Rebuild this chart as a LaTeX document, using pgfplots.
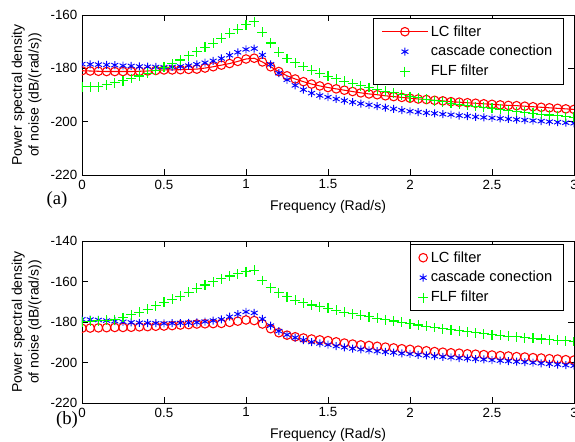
\documentclass[border=0pt]{standalone}
\usepackage{fontspec}
\setmainfont{Liberation Sans}
\newfontfamily\tnr{Liberation Serif}
\usepackage{pgfplots}
\usepackage{pgfplotstable}
\pgfplotsset{compat=1.18}

\definecolor{mred}{rgb}{1,0,0}
\definecolor{mblue}{rgb}{0,0,1}
\definecolor{mgreen}{rgb}{0,1,0}

% panel (a): x, LC filter, cascade conection, FLF filter
\pgfplotstableread{
x lc cas flf
0 -180.9 -178.4 -186.9
0.05 -181.0 -178.5 -186.9
0.1 -181.1 -178.6 -186.9
0.15 -181.2 -178.7 -186.2
0.2 -181.2 -178.8 -185.4
0.25 -181.2 -179.0 -184.6
0.3 -181.2 -179.1 -183.8
0.35 -181.1 -179.3 -182.9
0.4 -181.0 -179.4 -181.9
0.45 -180.8 -179.5 -180.8
0.5 -180.6 -179.6 -179.6
0.55 -180.6 -179.5 -178.3
0.6 -180.5 -179.3 -176.9
0.65 -180.4 -179.0 -175.3
0.7 -180.3 -178.5 -173.8
0.75 -179.9 -177.9 -172.1
0.8 -179.4 -177.2 -170.6
0.85 -178.8 -176.3 -168.7
0.9 -178.2 -175.1 -166.9
0.95 -177.4 -174.0 -165.3
1.0 -176.5 -172.9 -163.7
1.05 -176.2 -172.6 -162.5
1.1 -177.6 -175.0 -166.5
1.15 -179.4 -178.5 -170.5
1.2 -181.2 -181.8 -174.0
1.25 -182.8 -184.3 -176.3
1.3 -184.0 -186.4 -177.9
1.35 -185.0 -188.0 -179.3
1.4 -185.9 -189.3 -180.7
1.45 -186.6 -190.2 -181.9
1.5 -187.2 -190.8 -183.0
1.55 -187.7 -191.5 -183.9
1.6 -188.2 -192.1 -184.8
1.65 -188.7 -192.7 -185.7
1.7 -189.2 -193.2 -186.5
1.75 -189.6 -193.7 -187.2
1.8 -189.9 -194.2 -187.9
1.85 -190.3 -194.7 -188.6
1.9 -190.6 -195.2 -189.2
1.95 -190.9 -195.7 -189.9
2.0 -191.2 -196.1 -190.6
2.05 -191.5 -196.4 -191.1
2.1 -191.7 -196.7 -191.6
2.15 -192.0 -196.9 -192.1
2.2 -192.2 -197.2 -192.6
2.25 -192.5 -197.4 -193.1
2.3 -192.7 -197.7 -193.5
2.35 -192.9 -197.9 -193.9
2.4 -193.1 -198.2 -194.3
2.45 -193.3 -198.4 -194.6
2.5 -193.5 -198.6 -195.0
2.55 -193.7 -198.8 -195.4
2.6 -193.9 -199.0 -195.8
2.65 -194.0 -199.2 -196.2
2.7 -194.2 -199.4 -196.5
2.75 -194.4 -199.6 -196.9
2.8 -194.6 -199.8 -197.2
2.85 -194.8 -200.0 -197.5
2.9 -195.0 -200.2 -197.8
2.95 -195.2 -200.4 -198.1
3.0 -195.4 -200.6 -198.4
}\tabA

% panel (b)
\pgfplotstableread{
x lc cas flf
0 -183.1 -178.7 -179.8
0.05 -183.0 -178.8 -179.6
0.1 -182.9 -179.0 -179.4
0.15 -182.8 -179.3 -179.2
0.2 -182.7 -179.6 -178.8
0.25 -182.7 -179.9 -177.8
0.3 -182.6 -180.2 -176.5
0.35 -182.4 -180.4 -175.1
0.4 -182.3 -180.5 -173.7
0.45 -182.1 -180.6 -172.0
0.5 -182.0 -180.7 -170.3
0.55 -181.8 -180.6 -168.8
0.6 -181.5 -180.5 -167.2
0.65 -181.3 -180.4 -165.3
0.7 -181.0 -180.2 -163.4
0.75 -180.9 -179.8 -161.7
0.8 -180.8 -179.3 -160.1
0.85 -180.7 -178.7 -158.7
0.9 -180.2 -177.4 -157.3
0.95 -179.6 -176.1 -156.2
1.0 -179.0 -175.0 -155.1
1.05 -179.3 -175.5 -154.5
1.1 -181.0 -178.5 -159.5
1.15 -183.3 -181.8 -163.0
1.2 -185.3 -184.5 -165.6
1.25 -186.5 -186.3 -167.5
1.3 -187.3 -187.7 -169.2
1.35 -187.9 -188.9 -170.5
1.4 -188.4 -189.9 -171.6
1.45 -188.8 -190.6 -172.4
1.5 -189.2 -191.2 -173.2
1.55 -189.8 -191.9 -174.2
1.6 -190.4 -192.5 -175.1
1.65 -190.9 -193.1 -175.9
1.7 -191.3 -193.5 -176.7
1.75 -191.6 -194.0 -177.4
1.8 -192.0 -194.4 -178.1
1.85 -192.4 -194.8 -178.8
1.9 -192.8 -195.1 -179.5
1.95 -193.2 -195.5 -180.2
2.0 -193.5 -195.8 -180.9
2.05 -193.9 -196.2 -181.5
2.1 -194.2 -196.5 -182.1
2.15 -194.6 -196.9 -182.7
2.2 -194.9 -197.2 -183.3
2.25 -195.2 -197.5 -183.8
2.3 -195.4 -197.8 -184.3
2.35 -195.7 -198.0 -184.8
2.4 -195.9 -198.3 -185.3
2.45 -196.1 -198.5 -185.8
2.5 -196.3 -198.8 -186.3
2.55 -196.6 -199.1 -186.6
2.6 -196.8 -199.3 -187.0
2.65 -197.1 -199.6 -187.3
2.7 -197.3 -199.8 -187.7
2.75 -197.6 -200.1 -188.0
2.8 -197.8 -200.4 -188.4
2.85 -198.1 -200.7 -188.7
2.9 -198.3 -201.0 -189.0
2.95 -198.6 -201.3 -189.3
3.0 -198.8 -201.6 -189.6
}\tabB

\pgfplotsset{
  psd/.style={
    scale only axis,
    width=369pt,
    xmin=0, xmax=3,
    xtick={0,0.5,1,1.5,2,2.5,3},
    ymin=-220,
    axis line style={line width=0.6pt},
    every tick/.style={black, line width=0.5pt},
    tick align=inside,
    ticklabel style={font=\fontsize{10}{12}\selectfont},
    /pgf/number format/assume math mode=true,
    xlabel={Frequency (Rad/s)},
    ylabel={Power spectral density\\of noise (dB/(rad/s))},
    ylabel style={align=center, font=\fontsize{10.5}{12.5}\selectfont},
    xlabel style={font=\fontsize{10.5}{12.5}\selectfont, yshift=-1.5pt},
    clip marker paths=true,
    legend cell align=left,
    legend image code/.code={
      \draw[mark repeat=2, mark phase=2, ##1]
        plot coordinates {(0pt,0pt) (17pt,0pt) (34pt,0pt)};},
    legend style={at={(rel axis cs:1,1)}, anchor=north east,
      xshift=-8pt, yshift=-2.5pt, draw=black, line width=0.6pt,
      font=\fontsize{11}{13}\selectfont,
      inner xsep=6pt, inner ysep=3pt, row sep=1.5pt},
  },
  lcs/.style={color=mred, mark=o, mark size=3.2pt, line width=0.8pt},
  cass/.style={color=mblue, only marks, mark=asterisk, mark size=3pt, line width=0.7pt},
  flfs/.style={color=mgreen, only marks, mark=+, mark size=3.7pt, line width=0.85pt},
}

\begin{document}
\begin{tikzpicture}
\begin{axis}[psd, name=top, height=120pt, ymax=-160,
  ytick={-220,-200,-180,-160}]
\addplot[lcs] table[x=x, y=lc] {\tabA};
\addlegendentry{LC filter}
\addplot[cass] table[x=x, y=cas] {\tabA};
\addlegendentry{cascade conection}
\addplot[flfs] table[x=x, y=flf] {\tabA};
\addlegendentry{FLF filter}
\end{axis}
\begin{axis}[psd, name=bot, at={(0pt,-49.5pt)}, anchor=north west, height=121.5pt,
  ymax=-140, ytick={-220,-200,-180,-160,-140}]
\addplot[lcs, only marks] table[x=x, y=lc] {\tabB};
\addlegendentry{LC filter}
\addplot[cass] table[x=x, y=cas] {\tabB};
\addlegendentry{cascade conection}
\addplot[flfs] table[x=x, y=flf] {\tabB};
\addlegendentry{FLF filter}
\end{axis}
\node[font=\tnr\fontsize{14}{16}\selectfont] at ([xshift=-18.75pt, yshift=-18.75pt]top.south west) {(a)};
\node[font=\tnr\fontsize{14}{16}\selectfont] at ([xshift=-11.25pt, yshift=-12.75pt]bot.south west) {(b)};
\pgfresetboundingbox
\path[use as bounding box] (-61.5pt,-200.25pt) rectangle (369.75pt,131.25pt);
\end{tikzpicture}
\end{document}
